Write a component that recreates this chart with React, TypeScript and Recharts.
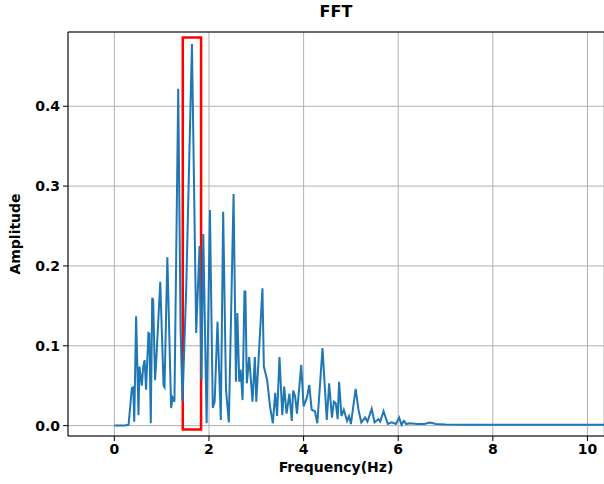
import {
  LineChart,
  Line,
  XAxis,
  YAxis,
  CartesianGrid,
  ReferenceArea,
  ReferenceLine,
} from 'recharts'

const FREQ = [
  0, 0.1, 0.2, 0.3, 0.37, 0.4, 0.42, 0.46, 0.51, 0.53, 0.56, 0.58, 0.61, 0.64, 0.67, 0.72,
  0.74, 0.77, 0.8, 0.82, 0.86, 0.88, 0.97, 1.04, 1.06, 1.12, 1.2, 1.23, 1.27, 1.35, 1.4,
  1.44, 1.52, 1.64, 1.73, 1.8, 1.84, 1.88, 1.95, 2.02, 2.08, 2.12, 2.18, 2.25, 2.3, 2.36,
  2.42, 2.52, 2.57, 2.6, 2.64, 2.67, 2.71, 2.75, 2.77, 2.8, 2.85, 2.92, 2.97, 3.0, 3.13,
  3.16, 3.23, 3.29, 3.35, 3.4, 3.44, 3.49, 3.55, 3.59, 3.64, 3.7, 3.75, 3.78, 3.82, 3.86,
  3.95, 4.0, 4.07, 4.12, 4.17, 4.24, 4.29, 4.4, 4.49, 4.54, 4.6, 4.64, 4.68, 4.72, 4.75,
  4.8, 4.85, 4.92, 4.96, 5.0, 5.1, 5.16, 5.22, 5.3, 5.35, 5.44, 5.5, 5.58, 5.62, 5.69,
  5.78, 5.86, 5.95, 6.02, 6.07, 6.12, 6.17, 6.25, 6.4, 6.55, 6.67, 6.8, 7.0, 7.5, 8.0,
  9.0, 10.0, 10.6,
]

const AMP = [
  0, 0, 0, 0.001, 0.047, 0.048, 0.005, 0.137, 0.013, 0.074, 0.06, 0.05, 0.074, 0.082,
  0.045, 0.116, 0.115, 0.003, 0.16, 0.157, 0.057, 0.075, 0.18, 0.05, 0.048, 0.211, 0.022,
  0.035, 0.03, 0.422, 0.12, 0.03, 0.174, 0.478, 0.116, 0.225, 0.057, 0.24, 0.003, 0.27,
  0.022, 0.03, 0.13, 0.007, 0.268, 0.045, 0.004, 0.29, 0.055, 0.141, 0.055, 0.07, 0.032,
  0.168, 0.168, 0.053, 0.086, 0.03, 0.086, 0.03, 0.172, 0.074, 0.057, 0.024, 0.003, 0.041,
  0.012, 0.086, 0.013, 0.049, 0.015, 0.04, 0.006, 0.044, 0.037, 0.015, 0.076, 0.024, 0.035,
  0.051, 0.02, 0.018, 0.003, 0.097, 0.007, 0.053, 0.01, 0.03, 0.028, 0.008, 0.055, 0.012,
  0.02, 0.006, 0.012, 0.002, 0.046, 0.02, 0.004, 0.01, 0.005, 0.021, 0.004, 0.008, 0.005,
  0.018, 0.002, 0.004, 0.002, 0.01, 0.001, 0.006, 0.002, 0.003, 0.002, 0.002, 0.004, 0.002,
  0.0015, 0.001, 0.001, 0.001, 0.001, 0.001,
]

const X_TICKS = [0, 2, 4, 6, 8, 10]
const Y_TICKS = [0, 0.1, 0.2, 0.3, 0.4]

// highlighted band around the main peak
const BOX_X = [1.446, 1.833]
const BOX_Y = [-0.005, 0.486]

const data = FREQ.map((f, i) => ({ f, a: AMP[i] }))

const font = 'DejaVu Sans, sans-serif'
const tickStyle = { fontSize: 14, fontWeight: 700, fill: '#000', fontFamily: font }

export default function App() {
  return (
    <div
      style={{
        position: 'absolute',
        left: 0,
        top: 0,
        width: 604,
        height: 484,
        overflow: 'hidden',
        background: '#fff',
        fontFamily: font,
      }}
    >
      <div
        style={{
          position: 'absolute',
          left: 68,
          width: 536,
          top: 2,
          textAlign: 'center',
          fontSize: 16,
          fontWeight: 700,
        }}
      >
        FFT
      </div>
      <div
        style={{
          position: 'absolute',
          left: 68,
          width: 536,
          top: 459,
          textAlign: 'center',
          fontSize: 14,
          fontWeight: 700,
        }}
      >
        Frequency(Hz)
      </div>
      <div
        style={{
          position: 'absolute',
          left: 15,
          top: 234,
          fontSize: 14,
          fontWeight: 700,
          transform: 'translate(-50%, -50%) rotate(-90deg)',
          whiteSpace: 'nowrap',
        }}
      >
        Amplitude
      </div>
      <LineChart
        width={604}
        height={484}
        data={data}
        margin={{ top: 32, right: 0, bottom: 0, left: 0 }}
      >
        <CartesianGrid stroke="#b0b0b0" strokeWidth={1} />
        <XAxis
          dataKey="f"
          type="number"
          domain={[-0.98, 10.35]}
          allowDataOverflow
          ticks={X_TICKS}
          tick={tickStyle}
          tickFormatter={(v) => String(v)}
          tickSize={5}
          tickMargin={3}
          height={48}
          stroke="#000"
        />
        <YAxis
          type="number"
          domain={[-0.013, 0.493]}
          allowDataOverflow
          ticks={Y_TICKS}
          tick={tickStyle}
          tickFormatter={(v) => v.toFixed(1)}
          tickSize={5}
          tickMargin={3}
          width={68}
          stroke="#000"
        />
        <ReferenceLine y={0.493} stroke="#000" strokeWidth={1} />
        <Line
          dataKey="a"
          stroke="#1f77b4"
          strokeWidth={2}
          dot={false}
          isAnimationActive={false}
        />
        <ReferenceArea
          x1={BOX_X[0]}
          x2={BOX_X[1]}
          y1={BOX_Y[0]}
          y2={BOX_Y[1]}
          fill="none"
          fillOpacity={0}
          stroke="#ff0000"
          strokeWidth={2.5}
          strokeOpacity={1}
        />
      </LineChart>
    </div>
  )
}
